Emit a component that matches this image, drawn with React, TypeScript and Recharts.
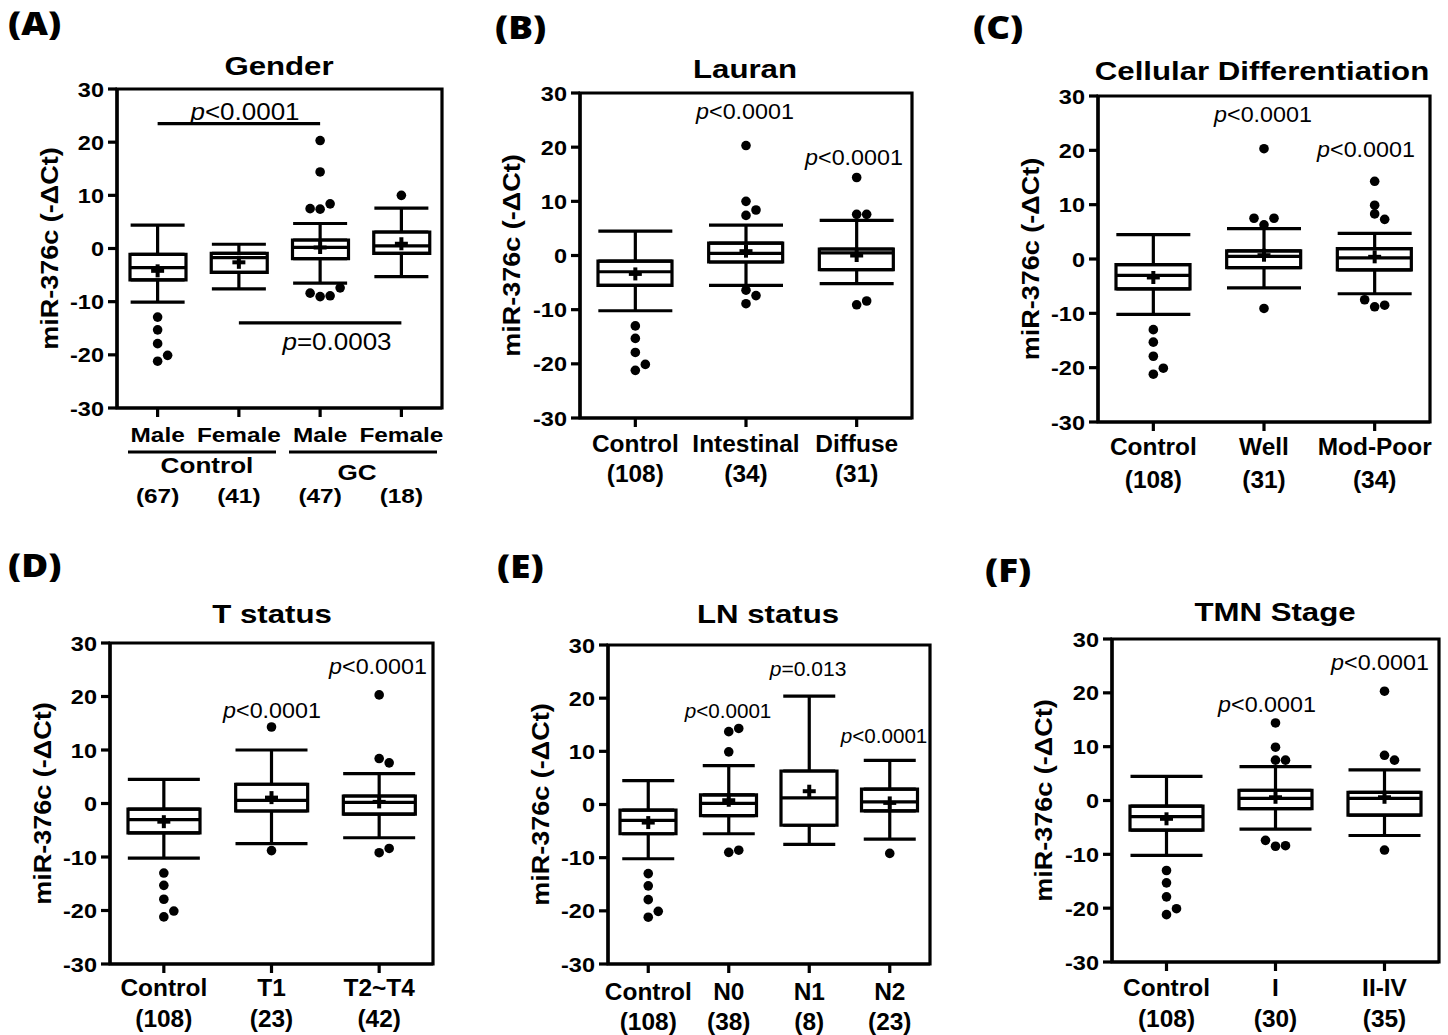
import React from 'react';
import { ComposedChart, Bar, Line, XAxis, YAxis, ErrorBar, ReferenceArea, ReferenceLine } from 'recharts';

const SANS = '"Liberation Sans", Arial, Helvetica, sans-serif';
const PANEL_FONT = '"Open Sans", "Liberation Sans", sans-serif';

const yTicks = [-30, -20, -10, 0, 10, 20, 30];

// ---------- (A) Gender ----------
const genderCategories = ['Male', 'Female', 'Male', 'Female'];
const genderCounts = ['(67)', '(41)', '(47)', '(18)'];
const genderLow = [-10.1, -7.6, -6.5, -5.3];
const genderQ1 = [-5.9, -4.5, -1.9, -0.9];
const genderMedian = [-3.6, -1.7, 0.2, 0.5];
const genderQ3 = [-1.1, -0.9, 1.6, 3.1];
const genderHigh = [4.4, 0.8, 4.7, 7.6];
const genderMean = [-4.2, -2.6, 0.2, 0.9];
const genderOutliers = [
  [-12.9, -15.3, -17.9, -21.2, -20.1],
  [],
  [20.3, 14.4, 7.5, 7.4, 8.4, -8.4, -9.05, -8.9, -7.4],
  [10.0],
];
const genderPLineUpper = 23.5;
const genderPLineLower = -14.0;

// ---------- (B) Lauran ----------
const lauranCategories = ['Control', 'Intestinal', 'Diffuse'];
const lauranCounts = ['(108)', '(34)', '(31)'];
const lauranLow = [-10.2, -5.5, -5.2];
const lauranQ1 = [-5.5, -1.2, -2.6];
const lauranMedian = [-3.0, 0.4, 0.5];
const lauranQ3 = [-1.05, 2.3, 1.2];
const lauranHigh = [4.5, 5.6, 6.5];
const lauranMean = [-3.4, 0.8, 0.0];
const lauranOutliers = [
  [-13.0, -15.3, -17.9, -21.2, -20.1],
  [20.3, 10.0, 7.4, 8.4, -6.4, -7.4, -8.9],
  [14.4, 7.6, 7.6, -9.1, -8.4],
];

// ---------- (C) Cellular Differentiation ----------
const diffCategories = ['Control', 'Well', 'Mod-Poor'];
const diffCounts = ['(108)', '(31)', '(34)'];
const diffLow = [-10.2, -5.3, -6.4];
const diffQ1 = [-5.5, -1.6, -2.0];
const diffMedian = [-3.0, 0.5, 0.2];
const diffQ3 = [-1.05, 1.5, 1.9];
const diffHigh = [4.5, 5.6, 4.7];
const diffMean = [-3.4, 0.7, 0.4];
const diffOutliers = [
  [-13.0, -15.3, -17.9, -21.2, -20.1],
  [20.3, 7.5, 6.3, 7.5, -9.1],
  [14.3, 9.9, 8.3, 7.3, -7.5, -8.8, -8.5],
];

// ---------- (D) T status ----------
const tCategories = ['Control', 'T1', 'T2~T4'];
const tCounts = ['(108)', '(23)', '(42)'];
const tLow = [-10.2, -7.5, -6.4];
const tQ1 = [-5.5, -1.4, -2.0];
const tMedian = [-3.0, 0.6, 0.2];
const tQ3 = [-1.05, 3.6, 1.4];
const tHigh = [4.5, 10.0, 5.6];
const tMean = [-3.4, 1.1, 0.3];
const tOutliers = [
  [-13.0, -15.3, -17.9, -21.2, -20.1],
  [14.3, -8.8],
  [20.3, 8.4, 7.6, -9.2, -8.4],
];

// ---------- (E) LN status ----------
const lnCategories = ['Control', 'N0', 'N1', 'N2'];
const lnCounts = ['(108)', '(38)', '(8)', '(23)'];
const lnLow = [-10.2, -5.5, -7.5, -6.5];
const lnQ1 = [-5.5, -2.1, -3.9, -1.2];
const lnMedian = [-3.0, 0.2, 1.25, 0.5];
const lnQ3 = [-1.05, 1.8, 6.3, 2.9];
const lnHigh = [4.5, 7.3, 20.4, 8.3];
const lnMean = [-3.4, 0.8, 2.5, 0.3];
const lnOutliers = [
  [-13.0, -15.3, -17.9, -21.2, -20.1],
  [13.7, 14.3, 9.9, -9.0, -8.6],
  [],
  [-9.2],
];

// ---------- (F) TMN Stage ----------
const stageCategories = ['Control', 'I', 'II-IV'];
const stageCounts = ['(108)', '(30)', '(35)'];
const stageLow = [-10.2, -5.3, -6.5];
const stageQ1 = [-5.5, -1.5, -2.7];
const stageMedian = [-3.0, 0.4, 0.4];
const stageQ3 = [-1.05, 1.9, 1.5];
const stageHigh = [4.5, 6.3, 5.7];
const stageMean = [-3.4, 0.6, 0.6];
const stageOutliers = [
  [-13.0, -15.3, -17.9, -21.2, -20.1],
  [14.4, 9.9, 7.5, 7.5, -7.4, -8.5, -8.4],
  [20.3, 8.4, 7.5, -9.2],
];

// ---------- helpers ----------
const MAX_OUT = 9;

function jitterSlots(vals: number[]): number[] {
  const order = vals.map((_, i) => i).sort((a, b) => vals[a] - vals[b]);
  const groupOf: number[] = new Array(vals.length).fill(0);
  let g = 0;
  order.forEach((k, n) => {
    if (n > 0 && vals[k] - vals[order[n - 1]] >= 1.4) g++;
    groupOf[k] = g;
  });
  const groups: Record<number, number[]> = {};
  vals.forEach((_, i) => {
    (groups[groupOf[i]] = groups[groupOf[i]] || []).push(i);
  });
  const slots: number[] = new Array(vals.length).fill(0);
  Object.values(groups).forEach((members) => {
    const n = members.length;
    members.forEach((m, j) => {
      slots[m] = j - Math.floor((n - 1) / 2);
    });
  });
  return slots;
}

function buildRows(prefix: string, low: number[], q1: number[], med: number[], q3: number[], high: number[], mean: number[], outliers: number[][]) {
  return low.map((_, i) => {
    const row: any = {
      id: prefix + i,
      q1: q1[i],
      q3: q3[i],
      median: med[i],
      mean: mean[i],
      box: [q1[i], q3[i]],
      upErr: [0, high[i] - q3[i]],
      lowErr: [q1[i] - low[i], 0],
    };
    const slots = jitterSlots(outliers[i]);
    for (let k = 0; k < MAX_OUT; k++) {
      row['o' + k] = k < outliers[i].length ? outliers[i][k] : null;
      row['j' + k] = k < outliers[i].length ? slots[k] : 0;
    }
    return row;
  });
}

const genderRows = buildRows('A', genderLow, genderQ1, genderMedian, genderQ3, genderHigh, genderMean, genderOutliers);
const lauranRows = buildRows('B', lauranLow, lauranQ1, lauranMedian, lauranQ3, lauranHigh, lauranMean, lauranOutliers);
const diffRows = buildRows('C', diffLow, diffQ1, diffMedian, diffQ3, diffHigh, diffMean, diffOutliers);
const tRows = buildRows('D', tLow, tQ1, tMedian, tQ3, tHigh, tMean, tOutliers);
const lnRows = buildRows('E', lnLow, lnQ1, lnMedian, lnQ3, lnHigh, lnMean, lnOutliers);
const stageRows = buildRows('F', stageLow, stageQ1, stageMedian, stageQ3, stageHigh, stageMean, stageOutliers);

// ---------- layout (positions / styles) ----------
type Layout = {
  left: number; top: number; right: number; bottom: number;
  barSize: number; capWidth: number;
  catFont: number; catScale: number; labelDy: number; countDy: number; xAxisHeight: number;
};

const layoutA: Layout = { left: 117, top: 89, right: 442, bottom: 408, barSize: 56, capWidth: 27, catFont: 21, catScale: 1.16, labelDy: 34, countDy: 95, xAxisHeight: 110 };
const layoutB: Layout = { left: 580, top: 93, right: 912, bottom: 418, barSize: 74, capWidth: 37, catFont: 23.5, catScale: 1.04, labelDy: 34, countDy: 64, xAxisHeight: 90 };
const layoutC: Layout = { left: 1098, top: 96, right: 1430, bottom: 422, barSize: 74, capWidth: 37, catFont: 23.5, catScale: 1.04, labelDy: 33, countDy: 66, xAxisHeight: 90 };
const layoutD: Layout = { left: 110, top: 643, right: 433, bottom: 964, barSize: 72, capWidth: 36, catFont: 23.5, catScale: 1.04, labelDy: 32, countDy: 63, xAxisHeight: 80 };
const layoutE: Layout = { left: 608, top: 645, right: 930, bottom: 964, barSize: 56, capWidth: 26, catFont: 23.5, catScale: 1.04, labelDy: 36, countDy: 66, xAxisHeight: 80 };
const layoutF: Layout = { left: 1112, top: 639, right: 1439, bottom: 962, barSize: 73, capWidth: 36, catFont: 23.5, catScale: 1.04, labelDy: 34, countDy: 65, xAxisHeight: 80 };

const STROKE = 3.2;
const JITTER_PX = 10;

function renderYTick(props: any) {
  const { x, y, payload } = props;
  return (
    <g>
      <text
        x={0}
        y={0}
        transform={`translate(${x},${y}) scale(1.12,1)`}
        textAnchor="end"
        dy="0.36em"
        fontFamily={SANS}
        fontWeight="bold"
        fontSize={21}
        fill="#000"
      >
        {payload.value}
      </text>
    </g>
  );
}

function makeXTick(cats: string[], counts: string[], layout: Layout) {
  return (props: any) => {
    const { x, y, payload } = props;
    const i = payload.index;
    const base = y - 9;
    const style = { fontFamily: SANS, fontWeight: 'bold' as const, fontSize: layout.catFont, fill: '#000' };
    return (
      <g>
        <text transform={`translate(${x},${base + layout.labelDy}) scale(${layout.catScale},1)`} textAnchor="middle" {...style}>
          {cats[i]}
        </text>
        <text transform={`translate(${x},${base + layout.countDy}) scale(${layout.catScale},1)`} textAnchor="middle" {...style}>
          {counts[i]}
        </text>
      </g>
    );
  };
}

function makeMedianDot(w: number) {
  return (props: any) => {
    const { cx, cy, index } = props;
    if (cx == null || cy == null || isNaN(cy)) return <g key={'md' + index} />;
    return <line key={'md' + index} x1={cx - w / 2} x2={cx + w / 2} y1={cy} y2={cy} stroke="#000" strokeWidth={STROKE} />;
  };
}

function meanDot(props: any) {
  const { cx, cy, index } = props;
  if (cx == null || cy == null || isNaN(cy)) return <g key={'mn' + index} />;
  const h = 6.5;
  return (
    <g key={'mn' + index}>
      <line x1={cx - h} x2={cx + h} y1={cy} y2={cy} stroke="#000" strokeWidth={4} />
      <line x1={cx} x2={cx} y1={cy - h} y2={cy + h} stroke="#000" strokeWidth={4} />
    </g>
  );
}

function makeOutlierDot(k: number) {
  return (props: any) => {
    const { cx, cy, payload, index } = props;
    if (cx == null || cy == null || isNaN(cy) || payload == null || payload['o' + k] == null) {
      return <g key={'o' + k + '-' + index} />;
    }
    const dx = (payload['j' + k] || 0) * JITTER_PX;
    return <circle key={'o' + k + '-' + index} cx={cx + dx} cy={cy} r={4.8} fill="#000" />;
  };
}

const outKeys = Array.from({ length: MAX_OUT }, (_, k) => k);

function BoxPanel({ rows, cats, counts, layout, children }: { rows: any[]; cats: string[]; counts: string[]; layout: Layout; children?: React.ReactNode }) {
  const yAxisW = 60;
  const mTop = 10;
  const mRight = 10;
  const width = layout.right - layout.left + yAxisW + mRight;
  const height = layout.bottom - layout.top + mTop + layout.xAxisHeight;
  const axisStyle = { stroke: '#000', strokeWidth: 3.2 };
  return (
    <div style={{ position: 'absolute', left: layout.left - yAxisW, top: layout.top - mTop }}>
      <ComposedChart width={width} height={height} data={rows} margin={{ top: mTop, right: mRight, bottom: 0, left: 0 }}>
        <XAxis
          dataKey="id"
          type="category"
          interval={0}
          height={layout.xAxisHeight}
          tickSize={9}
          tickMargin={0}
          axisLine={axisStyle}
          tickLine={axisStyle}
          tick={makeXTick(cats, counts, layout)}
        />
        <YAxis
          type="number"
          domain={[-30, 30]}
          ticks={yTicks}
          interval={0}
          allowDataOverflow
          width={yAxisW}
          tickSize={9}
          tickMargin={4}
          axisLine={axisStyle}
          tickLine={axisStyle}
          tick={renderYTick}
        />
        <ReferenceArea y1={-30} y2={30} fill="none" fillOpacity={0} stroke="#000" strokeWidth={3.2} ifOverflow="visible" />
        <Bar dataKey="box" barSize={layout.barSize} fill="#fff" stroke="#000" strokeWidth={STROKE} isAnimationActive={false} />
        <Line dataKey="q3" stroke="none" strokeWidth={0} dot={false} activeDot={false} isAnimationActive={false}>
          <ErrorBar dataKey="upErr" width={layout.capWidth} stroke="#000" strokeWidth={STROKE} direction="y" />
        </Line>
        <Line dataKey="q1" stroke="none" strokeWidth={0} dot={false} activeDot={false} isAnimationActive={false}>
          <ErrorBar dataKey="lowErr" width={layout.capWidth} stroke="#000" strokeWidth={STROKE} direction="y" />
        </Line>
        <Line dataKey="median" stroke="none" strokeWidth={0} dot={makeMedianDot(layout.barSize)} activeDot={false} isAnimationActive={false} />
        <Line dataKey="mean" stroke="none" strokeWidth={0} dot={meanDot} activeDot={false} isAnimationActive={false} />
        {outKeys.map((k) => (
          <Line
            key={'out' + k}
            dataKey={'o' + k}
            stroke="none"
            strokeWidth={0}
            dot={makeOutlierDot(k)}
            activeDot={false}
            isAnimationActive={false}
          />
        ))}
        {children}
      </ComposedChart>
    </div>
  );
}

// ---------- overlay text ----------
const panelLetters = [
  { t: '(A)', x: 8, y: 35 },
  { t: '(B)', x: 495, y: 39 },
  { t: '(C)', x: 973, y: 39 },
  { t: '(D)', x: 8, y: 577 },
  { t: '(E)', x: 497, y: 578 },
  { t: '(F)', x: 985, y: 582 },
];

const titles = [
  { t: 'Gender', x: 279, y: 75 },
  { t: 'Lauran', x: 745, y: 78 },
  { t: 'Cellular Differentiation', x: 1262, y: 80 },
  { t: 'T status', x: 272, y: 623 },
  { t: 'LN status', x: 768, y: 623 },
  { t: 'TMN Stage', x: 1275, y: 621 },
];

const yLabels = [
  { x: 50, y: (89 + 408) / 2 },
  { x: 512, y: (93 + 418) / 2 },
  { x: 1031, y: (96 + 422) / 2 },
  { x: 43, y: (643 + 964) / 2 },
  { x: 541, y: (645 + 964) / 2 },
  { x: 1044, y: (639 + 962) / 2 },
];

const pTexts = [
  { rest: '<0.0001', x: 245, y: 120, fs: 23, sx: 1.13 },
  { rest: '=0.0003', x: 337, y: 350, fs: 23, sx: 1.13 },
  { rest: '<0.0001', x: 745, y: 119, fs: 22, sx: 1.06 },
  { rest: '<0.0001', x: 854, y: 165, fs: 22, sx: 1.06 },
  { rest: '<0.0001', x: 1263, y: 122, fs: 22, sx: 1.06 },
  { rest: '<0.0001', x: 1366, y: 157, fs: 22, sx: 1.06 },
  { rest: '<0.0001', x: 272, y: 718, fs: 22, sx: 1.06 },
  { rest: '<0.0001', x: 378, y: 674, fs: 22, sx: 1.06 },
  { rest: '<0.0001', x: 728, y: 718, fs: 19.5, sx: 1.06 },
  { rest: '=0.013', x: 808, y: 676, fs: 19.5, sx: 1.08 },
  { rest: '<0.0001', x: 884, y: 743, fs: 19.5, sx: 1.06 },
  { rest: '<0.0001', x: 1267, y: 712, fs: 22, sx: 1.06 },
  { rest: '<0.0001', x: 1380, y: 670, fs: 22, sx: 1.06 },
];

const genderGroups = [
  { t: 'Control', x1: 128, x2: 276, lineY: 452, tx: 207, ty: 473 },
  { t: 'GC', x1: 289, x2: 437, lineY: 452, tx: 357, ty: 480 },
];

function Overlay() {
  return (
    <svg width={1448} height={1035} style={{ position: 'absolute', left: 0, top: 0, pointerEvents: 'none' }}>
      {panelLetters.map((p) => (
        <text key={p.t} transform={`translate(${p.x},${p.y}) scale(1.15,1)`} fontFamily={PANEL_FONT} fontWeight={800} fontSize={32} fill="#000">
          {p.t}
        </text>
      ))}
      {titles.map((p) => (
        <text key={p.t} transform={`translate(${p.x},${p.y}) scale(1.2,1)`} textAnchor="middle" fontFamily={SANS} fontWeight="bold" fontSize={26} fill="#000">
          {p.t}
        </text>
      ))}
      {yLabels.map((p, i) => (
        <text
          key={'yl' + i}
          transform={`translate(${p.x},${p.y}) rotate(-90) scale(1.15,1)`}
          textAnchor="middle"
          dominantBaseline="central"
          fontFamily={SANS}
          fontWeight="bold"
          fontSize={23.5}
          fill="#000"
        >
          miR-376c (-ΔCt)
        </text>
      ))}
      {pTexts.map((p, i) => (
        <text key={'p' + i} transform={`translate(${p.x},${p.y}) scale(${p.sx},1)`} textAnchor="middle" fontFamily={SANS} fontSize={p.fs} fill="#000">
          <tspan fontStyle="italic">p</tspan>
          <tspan>{p.rest}</tspan>
        </text>
      ))}
      {genderGroups.map((g) => (
        <g key={g.t}>
          <line x1={g.x1} x2={g.x2} y1={g.lineY} y2={g.lineY} stroke="#000" strokeWidth={3.2} />
          <text transform={`translate(${g.tx},${g.ty}) scale(1.16,1)`} textAnchor="middle" fontFamily={SANS} fontWeight="bold" fontSize={22.5} fill="#000">
            {g.t}
          </text>
        </g>
      ))}
    </svg>
  );
}

export default function App() {
  return (
    <div style={{ position: 'absolute', left: 0, top: 0, width: 1448, height: 1035, overflow: 'hidden', background: '#fff' }}>
      <BoxPanel rows={genderRows} cats={genderCategories} counts={genderCounts} layout={layoutA}>
        <ReferenceLine
          segment={[{ x: 'A0', y: genderPLineUpper }, { x: 'A2', y: genderPLineUpper }]}
          stroke="#000"
          strokeWidth={3.2}
          ifOverflow="visible"
        />
        <ReferenceLine
          segment={[{ x: 'A1', y: genderPLineLower }, { x: 'A3', y: genderPLineLower }]}
          stroke="#000"
          strokeWidth={3.2}
          ifOverflow="visible"
        />
      </BoxPanel>
      <BoxPanel rows={lauranRows} cats={lauranCategories} counts={lauranCounts} layout={layoutB} />
      <BoxPanel rows={diffRows} cats={diffCategories} counts={diffCounts} layout={layoutC} />
      <BoxPanel rows={tRows} cats={tCategories} counts={tCounts} layout={layoutD} />
      <BoxPanel rows={lnRows} cats={lnCategories} counts={lnCounts} layout={layoutE} />
      <BoxPanel rows={stageRows} cats={stageCategories} counts={stageCounts} layout={layoutF} />
      <Overlay />
    </div>
  );
}
